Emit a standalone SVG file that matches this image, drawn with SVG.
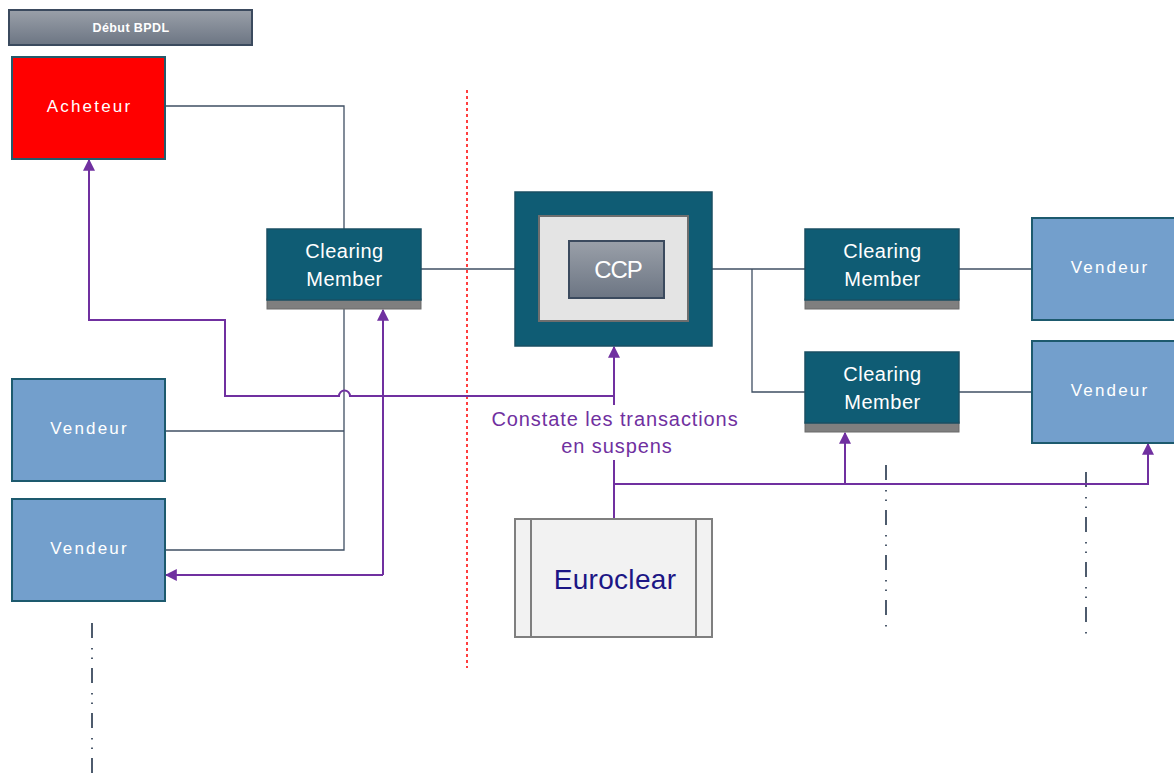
<svg xmlns="http://www.w3.org/2000/svg" width="1174" height="780" viewBox="0 0 1174 780">
<style>
.txt{font-family:"Liberation Sans",Arial,sans-serif;fill:#ffffff;text-anchor:middle}
.cm{fill:#0f5c74;stroke:#1a4f63;stroke-width:1.5}
.bar{fill:#7f7f7f;stroke:#6b6b6b;stroke-width:1}
.vend{fill:#739fcc;stroke:#1d5a6e;stroke-width:2}
.conn{fill:none;stroke:#3f4f63;stroke-width:1.3}
.pur{fill:none;stroke:#7030a0;stroke-width:2}
.dd{fill:none;stroke:#3b4a5e;stroke-width:1.8;stroke-dasharray:15 10 1.5 8 1.5 9}
.ls{letter-spacing:2.2px}
.cmt{font-size:20px;letter-spacing:0.5px}
</style>
<defs>
<linearGradient id="gg" x1="0" y1="0" x2="0" y2="1">
<stop offset="0" stop-color="#9aa0a9"/>
<stop offset="1" stop-color="#6c7583"/>
</linearGradient>
<marker id="ah" viewBox="0 0 10 10" refX="9" refY="5" markerWidth="12" markerHeight="12" markerUnits="userSpaceOnUse" orient="auto">
<path d="M0,0 L10,5 L0,10 Z" fill="#7030a0"/>
</marker>
</defs>
<rect width="1174" height="780" fill="#ffffff"/>

<g id="connectors">
<path class="conn" d="M165,106 H344 V229"/>
<path class="conn" d="M344,309 V550 H165"/>
<path class="conn" d="M165,431 H344"/>
<path class="conn" d="M421,269 H515"/>
<path class="conn" d="M712,269 H805"/>
<path class="conn" d="M752,269 V392 H805"/>
<path class="conn" d="M959,269 H1032"/>
<path class="conn" d="M959,392 H1032"/>
<line x1="467" y1="90" x2="467" y2="668" stroke="#ff0000" stroke-width="1.5" stroke-dasharray="3 3"/>
<path class="dd" d="M92,623 V775"/>
<path class="dd" d="M886,465 V627"/>
<path class="dd" d="M1086,472 V634"/>
<path class="pur" d="M614,405 V396 H350 A5,5 0 0 0 339,396 H225 V320 H89 V160" marker-end="url(#ah)"/>
<path class="pur" d="M614,405 V347" marker-end="url(#ah)"/>
<path class="pur" d="M383,575 H166" marker-end="url(#ah)"/>
<path class="pur" d="M383,575 V310" marker-end="url(#ah)"/>
<path class="pur" d="M614,519 V460"/>
<path class="pur" d="M614,484 H1148 V444" marker-end="url(#ah)"/>
<path class="pur" d="M845,484 V433" marker-end="url(#ah)"/>
</g>

<g id="debut">
<rect x="9" y="10" width="243" height="35" fill="url(#gg)" stroke="#3b4a5e" stroke-width="2"/>
<text class="txt" x="131" y="32" font-size="12.5" font-weight="bold" letter-spacing="0.4">Début BPDL</text>
</g>

<g id="acheteur">
<rect x="12" y="57" width="153" height="102" fill="#ff0000" stroke="#235a6b" stroke-width="2"/>
<text class="txt ls" x="89.5" y="112" font-size="17">Acheteur</text>
</g>

<g id="cm-left">
<rect class="bar" x="267" y="299" width="154" height="10"/>
<rect class="cm" x="267" y="229" width="154" height="71"/>
<text class="txt cmt" x="344.5" y="258">Clearing</text>
<text class="txt cmt" x="344.5" y="286">Member</text>
</g>

<g id="ccp">
<rect x="515" y="192" width="197" height="154" fill="#0f5c74" stroke="#1a4f63" stroke-width="1.5"/>
<rect x="539" y="216" width="149" height="105" fill="#e4e4e4" stroke="#6e6e6e" stroke-width="2"/>
<rect x="569" y="241" width="95" height="57" fill="url(#gg)" stroke="#3b4a5e" stroke-width="2"/>
<text class="txt" x="618" y="278" font-size="24" letter-spacing="-1">CCP</text>
</g>

<g id="cm-right-1">
<rect class="bar" x="805" y="299" width="154" height="10"/>
<rect class="cm" x="805" y="229" width="154" height="71"/>
<text class="txt cmt" x="882.5" y="258">Clearing</text>
<text class="txt cmt" x="882.5" y="286">Member</text>
</g>

<g id="cm-right-2">
<rect class="bar" x="805" y="422" width="154" height="10"/>
<rect class="cm" x="805" y="352" width="154" height="71"/>
<text class="txt cmt" x="882.5" y="381">Clearing</text>
<text class="txt cmt" x="882.5" y="409">Member</text>
</g>

<g id="vendeur-left-1">
<rect class="vend" x="12" y="379" width="153" height="102"/>
<text class="txt ls" x="89.5" y="434" font-size="17">Vendeur</text>
</g>

<g id="vendeur-left-2">
<rect class="vend" x="12" y="499" width="153" height="102"/>
<text class="txt ls" x="89.5" y="554" font-size="17">Vendeur</text>
</g>

<g id="vendeur-right-1">
<rect class="vend" x="1032" y="218" width="150" height="102"/>
<text class="txt ls" x="1110" y="273" font-size="17">Vendeur</text>
</g>

<g id="vendeur-right-2">
<rect class="vend" x="1032" y="341" width="150" height="102"/>
<text class="txt ls" x="1110" y="396" font-size="17">Vendeur</text>
</g>

<g id="label-constate">
<text x="615" y="426" font-family="Liberation Sans, Arial, sans-serif" font-size="20" letter-spacing="0.9" fill="#7030a0" text-anchor="middle">Constate les transactions</text>
<text x="617" y="453" font-family="Liberation Sans, Arial, sans-serif" font-size="20" letter-spacing="0.9" fill="#7030a0" text-anchor="middle">en suspens</text>
</g>

<g id="euroclear">
<rect x="515" y="519" width="197" height="118" fill="#f2f2f2" stroke="#7f7f7f" stroke-width="2"/>
<line x1="531" y1="519" x2="531" y2="637" stroke="#7f7f7f" stroke-width="2"/>
<line x1="696" y1="519" x2="696" y2="637" stroke="#7f7f7f" stroke-width="2"/>
<text x="615" y="589" font-family="Liberation Sans, Arial, sans-serif" font-size="28" letter-spacing="0.3" fill="#1c1685" text-anchor="middle">Euroclear</text>
</g>
</svg>
